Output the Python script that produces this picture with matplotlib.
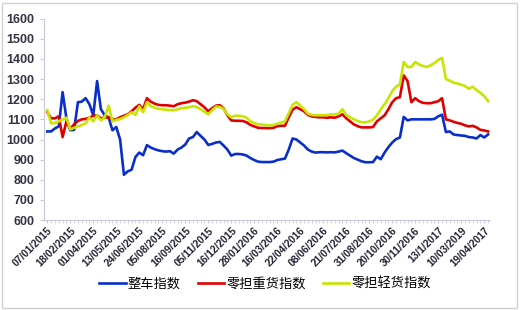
import matplotlib
matplotlib.use("Agg")
from matplotlib import pyplot as plt
from matplotlib.patches import Rectangle

plt.rcParams['font.family'] = ['Liberation Sans', 'Noto Sans CJK SC', 'DejaVu Sans']

date_labels = ["07/01/2015", "18/02/2015", "01/04/2015", "13/05/2015", "24/06/2015",
               "05/08/2015", "16/09/2015", "05/11/2015", "16/12/2015", "28/01/2016",
               "16/03/2016", "22/04/2016", "08/06/2016", "21/07/2016", "31/08/2016",
               "20/10/2016", "30/11/2016", "13/1/2017", "10/03/2019", "19/04/2017"]
LABEL_STEP = 6

# 整车指数
truck_index = [1040, 1040, 1055, 1065, 1235, 1105, 1046, 1048, 1185, 1188,
               1205, 1175, 1120, 1290, 1150, 1120, 1110, 1046, 1062, 1000,
               825, 842, 850, 913, 935, 922, 972, 960, 952, 946,
               942, 940, 942, 930, 950, 960, 975, 1005, 1012, 1037,
               1018, 1000, 973, 978, 985, 988, 970, 950, 920, 928,
               928, 926, 920, 908, 898, 890, 888, 888, 888, 890,
               898, 902, 905, 950, 1005, 1000, 985, 970, 950, 940,
               935, 937, 937, 936, 937, 936, 940, 945, 932, 920,
               908, 900, 892, 887, 887, 888, 915, 902, 935, 962,
               985, 1002, 1010, 1112, 1095, 1100, 1100, 1100, 1100, 1100,
               1100, 1102, 1115, 1123, 1037, 1040, 1025, 1022, 1020, 1018,
               1012, 1010, 1005, 1022, 1010, 1025]

# 零担重货指数
ltl_heavy_index = [1136, 1105, 1105, 1115, 1012, 1090, 1052, 1075, 1092, 1100,
                   1102, 1108, 1118, 1120, 1105, 1108, 1110, 1098, 1100, 1110,
                   1118, 1125, 1140, 1158, 1172, 1150, 1205, 1188, 1178, 1172,
                   1170, 1170, 1168, 1165, 1175, 1180, 1183, 1188, 1195, 1190,
                   1175, 1160, 1140, 1155, 1168, 1170, 1155, 1120, 1095, 1093,
                   1093, 1092, 1085, 1072, 1065, 1058, 1057, 1057, 1056, 1058,
                   1066, 1068, 1068, 1110, 1148, 1160, 1150, 1140, 1122, 1115,
                   1112, 1110, 1110, 1108, 1110, 1108, 1115, 1125, 1105, 1090,
                   1075, 1066, 1060, 1060, 1060, 1062, 1090, 1105, 1120, 1150,
                   1185, 1205, 1210, 1318, 1290, 1185, 1205, 1190, 1182, 1180,
                   1180, 1185, 1190, 1205, 1100, 1095, 1088, 1082, 1078, 1070,
                   1065, 1068, 1060, 1048, 1045, 1040]

# 零担轻货指数
ltl_light_index = [1146, 1080, 1082, 1090, 1100, 1108, 1050, 1058, 1065, 1072,
                   1080, 1110, 1090, 1120, 1095, 1110, 1168, 1090, 1097, 1102,
                   1110, 1122, 1135, 1122, 1165, 1135, 1185, 1165, 1158, 1152,
                   1150, 1148, 1146, 1145, 1150, 1155, 1158, 1160, 1165, 1162,
                   1150, 1138, 1125, 1145, 1163, 1162, 1152, 1125, 1110, 1118,
                   1118, 1115, 1108, 1090, 1082, 1075, 1074, 1072, 1070, 1072,
                   1078, 1084, 1090, 1130, 1172, 1185, 1168, 1150, 1128, 1122,
                   1120, 1120, 1120, 1122, 1124, 1125, 1128, 1150, 1122, 1110,
                   1100, 1092, 1085, 1085, 1090, 1098, 1120, 1150, 1175, 1205,
                   1240, 1262, 1275, 1385, 1360, 1360, 1385, 1372, 1365, 1360,
                   1368, 1380, 1395, 1405, 1300, 1292, 1282, 1278, 1272, 1265,
                   1252, 1262, 1245, 1232, 1215, 1190]

series_names = ["整车指数", "零担重货指数", "零担轻货指数"]
series_colors = ["#0a2fc8", "#e00000", "#c8e400"]


def make_plot():
    fig = plt.figure(figsize=(5.2, 3.1), dpi=100)
    ax = fig.add_axes([0.085, 0.29, 0.858, 0.65])
    fig.patches.append(Rectangle((0.004, 0.006), 0.99, 0.985, transform=fig.transFigure,
                                 fill=False, edgecolor="#d0d0d0", linewidth=1))

    x = list(range(len(truck_index)))
    for values, name, color in zip([truck_index, ltl_heavy_index, ltl_light_index],
                                   series_names, series_colors):
        ax.plot(x, values, color=color, linewidth=1.9, label=name)

    ax.set_ylim(600, 1600)
    ax.set_yticks(range(600, 1601, 100))
    ax.set_xlim(-0.8, len(x) - 0.4)
    ax.set_xticks(x, minor=True)
    ax.set_xticks(range(0, len(x), LABEL_STEP))
    ax.set_xticklabels(date_labels, rotation=45, ha="right", rotation_mode="anchor",
                       fontsize=7.3, color="#222233", fontweight="bold")

    for side in ["top", "right"]:
        ax.spines[side].set_visible(False)
    ax.spines["left"].set_color("#c8c8d8")
    ax.spines["bottom"].set_color("#c8c8d8")
    ax.spines["bottom"].set_linestyle((0, (1, 1)))
    ax.tick_params(axis="y", labelsize=9, length=3, color="#c8c8d8", pad=4)
    ax.tick_params(axis="x", which="both", length=2, color="#c8c8d8", pad=2)
    for lbl in ax.get_yticklabels():
        lbl.set_fontweight("bold")
        lbl.set_color("#333344")

    fig.legend(loc="lower center", bbox_to_anchor=(0.51, 0.025), ncol=3, frameon=False,
               fontsize=9.5, handlelength=2.0, handletextpad=0.15, columnspacing=1.3)

    fig.savefig("out.png", dpi=100)


if __name__ == "__main__":
    make_plot()
